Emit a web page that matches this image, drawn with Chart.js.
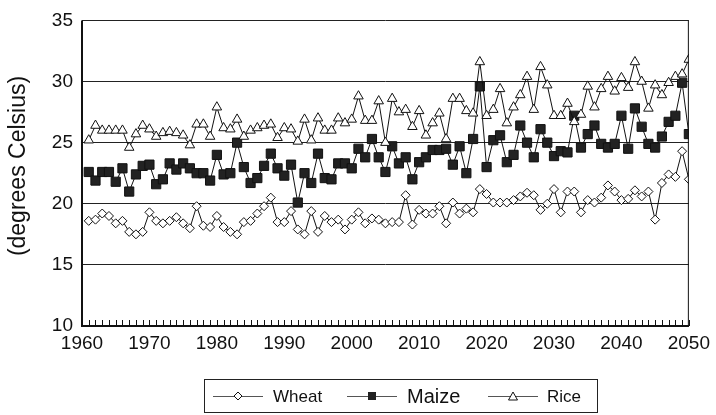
<!DOCTYPE html>
<html><head><meta charset="utf-8">
<script src="https://cdn.jsdelivr.net/npm/chart.js@4/dist/chart.umd.min.js"></script>
<style>html,body{margin:0;padding:0;background:#fff}#wrap{position:relative;width:716px;height:415px}</style>
</head><body><div id="wrap"><canvas id="c" width="716" height="415"></canvas></div>
<script>
const years = [];
for (let y = 1961; y <= 2050; y++) years.push(y);
const wheat = [18.6,18.7,19.2,19.0,18.4,18.6,17.7,17.5,17.7,19.3,18.6,18.4,18.6,
  18.9,18.4,18.0,19.8,18.2,18.1,19.0,18.1,17.7,17.5,18.5,18.6,19.2,19.8,20.5,18.5,
  18.5,19.4,17.9,17.5,19.4,17.7,19.0,18.5,18.7,17.9,18.7,19.3,18.4,18.8,18.7,18.4,
  18.5,18.5,20.7,18.3,19.5,19.2,19.2,19.8,18.4,20.1,19.2,19.6,19.3,21.2,20.8,
  20.1,20.1,20.1,20.3,20.6,20.9,20.7,19.5,20.0,21.2,19.3,21.0,21.0,19.3,20.3,
  20.1,20.5,21.5,21.0,20.3,20.4,21.1,20.6,21.0,18.7,21.7,22.4,22.2,24.3,22.0];
const maize = [22.6,21.9,22.6,22.6,21.8,22.9,21.0,22.4,23.1,23.2,21.6,22.0,23.3,
  22.8,23.3,22.9,22.5,22.5,21.9,24.0,22.4,22.5,25.0,23.0,21.7,22.1,23.1,24.1,22.9,
  22.3,23.2,20.1,22.5,21.7,24.1,22.1,22.0,23.3,23.3,22.9,24.5,23.8,25.3,23.8,22.6,
  24.7,23.3,23.8,22.0,23.4,23.8,24.4,24.4,24.5,23.2,24.7,22.5,25.3,29.6,23.0,
  25.2,25.6,23.4,24.0,26.4,25.0,23.8,26.1,25.0,23.9,24.3,24.2,27.2,24.6,25.7,
  26.4,24.9,24.6,24.9,27.2,24.5,27.8,26.3,24.9,24.6,25.5,26.7,27.2,29.9,25.7];
const rice = [25.2,26.4,26.0,26.0,26.0,26.0,24.6,25.7,26.4,26.1,25.5,25.8,25.9,
  25.8,25.6,24.8,26.5,26.5,25.5,27.9,26.2,26.1,26.9,25.5,26.0,26.2,26.4,26.5,25.4,
  26.2,26.1,25.1,26.9,25.2,27.0,26.0,26.0,27.0,26.6,26.9,28.8,26.8,26.8,28.4,25.0,
  28.6,27.5,27.7,26.3,27.6,25.6,26.6,27.4,25.3,28.6,28.6,27.6,27.4,31.6,27.2,
  27.7,29.4,26.6,27.9,28.9,30.4,27.7,31.2,29.7,27.2,27.2,28.2,26.7,27.3,29.6,
  27.9,29.4,30.4,29.2,30.3,29.5,31.6,30.0,27.8,29.7,28.9,29.9,30.4,30.6,31.8];
const xTicks = [1960,1970,1980,1990,2000,2010,2020,2030,2040,2050];
const yTicks = [10,15,20,25,30,35];
const yTitle = '(degrees Celsius)';

const FONT = "'Liberation Sans', Arial, sans-serif";
const toXY = arr => arr.map((v,i) => ({x: years[i], y: v}));

const framePlugin = {
  id: 'frame',
  afterDraw(chart) {
    const {ctx, chartArea: a, scales: {x}} = chart;
    ctx.save();
    ctx.strokeStyle = '#111';
    ctx.lineWidth = 1;
    ctx.beginPath();
    ctx.moveTo(a.right - 0.5, a.top); ctx.lineTo(a.right - 0.5, a.bottom);
    ctx.stroke();
    ctx.lineWidth = 2;
    ctx.beginPath();
    ctx.moveTo(a.left, a.top); ctx.lineTo(a.left, a.bottom + 1);
    ctx.moveTo(a.left - 1, a.bottom); ctx.lineTo(a.right, a.bottom);
    ctx.stroke();
    ctx.lineWidth = 1;
    ctx.beginPath();
    for (let yr = 1960; yr <= 2050; yr++) {
      const px = Math.round(x.getPixelForValue(yr)) + 0.5;
      ctx.moveTo(px, a.bottom); ctx.lineTo(px, a.bottom - 6);
    }
    ctx.stroke();
    // y title
    ctx.save();
    ctx.translate(19, 166);
    ctx.rotate(-Math.PI / 2);
    ctx.font = '23px ' + FONT;
    ctx.fillStyle = '#111';
    ctx.textAlign = 'center';
    ctx.textBaseline = 'middle';
    ctx.fillText(yTitle, 0, 0);
    ctx.restore();
    // legend
    const L = {x: 204.5, y: 379.5, w: 393, h: 33};
    ctx.strokeStyle = '#222';
    ctx.strokeRect(L.x, L.y, L.w, L.h);
    const cy = 396;
    const items = [
      {lx: 213, lw: 50, tx: 273, label: 'Wheat', size: 17, mk: 'd'},
      {lx: 347, lw: 50, tx: 407, label: 'Maize', size: 20, mk: 's'},
      {lx: 488, lw: 50, tx: 547, label: 'Rice', size: 17, mk: 't'}
    ];
    items.forEach(it => {
      ctx.strokeStyle = '#555'; ctx.lineWidth = 1;
      ctx.beginPath(); ctx.moveTo(it.lx, cy + 0.5); ctx.lineTo(it.lx + it.lw, cy + 0.5); ctx.stroke();
      const mx = it.lx + it.lw / 2;
      ctx.strokeStyle = '#111'; ctx.fillStyle = '#fff';
      ctx.beginPath();
      if (it.mk === 'd') { ctx.moveTo(mx, cy - 4); ctx.lineTo(mx + 4, cy); ctx.lineTo(mx, cy + 4); ctx.lineTo(mx - 4, cy); ctx.closePath(); ctx.fill(); ctx.stroke(); }
      if (it.mk === 's') { ctx.fillStyle = '#222'; ctx.fillRect(mx - 4, cy - 4, 8, 8); }
      if (it.mk === 't') { ctx.moveTo(mx, cy - 4); ctx.lineTo(mx + 4.5, cy + 4); ctx.lineTo(mx - 4.5, cy + 4); ctx.closePath(); ctx.fill(); ctx.stroke(); }
      ctx.fillStyle = '#111';
      ctx.font = it.size + 'px ' + FONT;
      ctx.textBaseline = 'middle';
      ctx.fillText(it.label, it.tx, cy + 1);
    });
    ctx.restore();
  }
};

const common = {borderColor: '#111', borderWidth: 1, tension: 0, pointBorderColor: '#111', pointBorderWidth: 1, pointHoverRadius: 0};
new Chart(document.getElementById('c'), {
  type: 'line',
  data: {
    datasets: [
      Object.assign({label: 'Rice', data: toXY(rice), pointStyle: 'triangle', pointRadius: 5.5, pointBackgroundColor: '#fff'}, common),
      Object.assign({label: 'Maize', data: toXY(maize), pointStyle: 'rect', pointRadius: 6.5, pointBackgroundColor: '#222'}, common),
      Object.assign({label: 'Wheat', data: toXY(wheat), pointStyle: 'rectRot', pointRadius: 4.5, pointBackgroundColor: '#fff'}, common)
    ]
  },
  options: {
    responsive: false, animation: false, devicePixelRatio: 1,
    layout: {padding: {left: 0, right: 22, top: 20, bottom: 0}},
    plugins: {legend: {display: false}, tooltip: {enabled: false}},
    scales: {
      x: {
        type: 'linear', min: 1960, max: 2050,
        afterBuildTicks(s) { s.ticks = xTicks.map(v => ({value: v})); },
        afterFit(s) { s.height = 89; },
        grid: {display: false, drawTicks: false},
        border: {display: false},
        ticks: {font: {family: FONT, size: 19}, color: '#111', padding: 6, maxRotation: 0, autoSkip: false, callback: v => String(v)}
      },
      y: {
        min: 10, max: 35,
        afterBuildTicks(s) { s.ticks = yTicks.map(v => ({value: v})); },
        afterFit(s) { s.width = 82; },
        grid: {color: '#222', lineWidth: 1, drawTicks: false},
        border: {display: false},
        ticks: {font: {family: FONT, size: 19}, color: '#111', padding: 9, callback: v => String(v)}
      }
    }
  },
  plugins: [framePlugin]
});
</script></body></html>
